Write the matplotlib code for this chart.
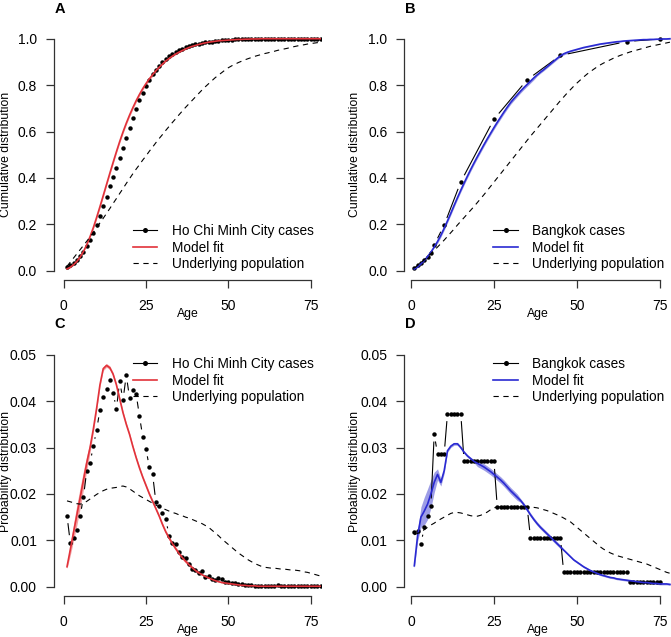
import numpy as np
import matplotlib
matplotlib.use('Agg')
import matplotlib.pyplot as plt
from matplotlib.collections import LineCollection
from matplotlib.lines import Line2D

plt.rcParams['font.family'] = ['Liberation Sans', 'DejaVu Sans']
plt.rcParams['lines.scale_dashes'] = False

# ---------------- data ----------------
ages = list(range(1, 79))

hcmc_cases_prob = [
    0.0153, 0.0095, 0.0104, 0.0122, 0.0152, 0.0194, 0.0250, 0.0267, 0.0303, 0.0338,
    0.0381, 0.0408, 0.0426, 0.0445, 0.0418, 0.0383, 0.0443, 0.0402, 0.0456, 0.0407,
    0.0425, 0.0415, 0.0368, 0.0323, 0.0297, 0.0257, 0.0242, 0.0182, 0.0174, 0.0158,
    0.0146, 0.0110, 0.0094, 0.0093, 0.0075, 0.0063, 0.0061, 0.0050, 0.0039, 0.0037,
    0.0030, 0.0034, 0.0022, 0.0024, 0.0017, 0.0014, 0.0018, 0.0016, 0.0011, 0.0011,
    0.0008, 0.0007, 0.0006, 0.0005, 0.0004, 0.0003, 0.0003, 0.0002, 0.0002, 0.0002,
    0.0002, 0.0002, 0.0002, 0.0002, 0.0004, 0.0002, 0.0002, 0.0002, 0.0002, 0.0002,
    0.0002, 0.0002, 0.0002, 0.0002, 0.0002, 0.0002, 0.0002, 0.0002]

hcmc_cases_cum = [
    0.015, 0.025, 0.035, 0.047, 0.063, 0.082, 0.107, 0.134, 0.164, 0.198,
    0.236, 0.277, 0.319, 0.364, 0.406, 0.444, 0.488, 0.528, 0.574, 0.615,
    0.657, 0.699, 0.736, 0.768, 0.798, 0.823, 0.847, 0.866, 0.883, 0.899,
    0.913, 0.924, 0.934, 0.943, 0.951, 0.957, 0.963, 0.968, 0.972, 0.976,
    0.979, 0.982, 0.984, 0.987, 0.988, 0.990, 0.992, 0.993, 0.994, 0.995,
    0.996, 0.997, 0.997, 0.998, 0.998, 0.999, 0.999, 0.999, 0.999, 1.000,
    1.000, 1.000, 1.000, 1.000, 1.000, 1.000, 1.000, 1.000, 1.000, 1.000,
    1.000, 1.000, 1.000, 1.000, 1.000, 1.000, 1.000, 1.000]

hcmc_model_prob = [
    0.0043, 0.0080, 0.0118, 0.0155, 0.0192, 0.0230, 0.0267, 0.0300, 0.0340, 0.0385,
    0.0435, 0.0470, 0.0477, 0.0472, 0.0458, 0.0435, 0.0405, 0.0375, 0.0350, 0.0328,
    0.0302, 0.0278, 0.0256, 0.0236, 0.0218, 0.0200, 0.0184, 0.0168, 0.0152, 0.0134,
    0.0118, 0.0105, 0.0093, 0.0082, 0.0072, 0.0063, 0.0055, 0.0048, 0.0041, 0.0035,
    0.0030, 0.0026, 0.0022, 0.0019, 0.0016, 0.0013, 0.0011, 0.0009, 0.0008, 0.0007,
    0.0006, 0.0005, 0.0004, 0.0003, 0.0003, 0.0002, 0.0002, 0.0002, 0.0001, 0.0001,
    0.0001, 0.0001, 0.0001, 0.0001, 0.0001, 0.0001, 0.0001, 0.0001, 0.0001, 0.0001,
    0.0001, 0.0001, 0.0001, 0.0001, 0.0001, 0.0001, 0.0001, 0.0001]
hcmc_model_prob_hw = [0.0004, 0.0012, 0.0018, 0.0022, 0.0022, 0.0020, 0.0016, 0.0011,
                      0.0007, 0.0005, 0.0004] + [0.0004] * 30 + [0.0001] * 37

hcmc_model_cum = [
    0.008, 0.015, 0.026, 0.040, 0.059, 0.083, 0.112, 0.147, 0.186, 0.230,
    0.276, 0.324, 0.372, 0.420, 0.467, 0.513, 0.557, 0.598, 0.636, 0.671,
    0.703, 0.733, 0.760, 0.785, 0.807, 0.827, 0.845, 0.862, 0.877, 0.891,
    0.904, 0.915, 0.925, 0.934, 0.942, 0.949, 0.956, 0.962, 0.967, 0.971,
    0.975, 0.979, 0.982, 0.985, 0.987, 0.989, 0.991, 0.992, 0.993, 0.994,
    0.995, 0.996, 0.997, 0.997, 0.998, 0.998, 0.999, 0.999, 0.999, 1.000,
    1.000, 1.000, 1.000, 1.000, 1.000, 1.000, 1.000, 1.000, 1.000, 1.000,
    1.000, 1.000, 1.000, 1.000, 1.000, 1.000, 1.000, 1.000]
hcmc_model_cum_hw = [0.003] * 8 + [0.007] * 20 + [0.003] * 10 + [0.001] * 40

hcmc_pop_prob = [
    0.0185, 0.0183, 0.0181, 0.0179, 0.0178, 0.0180, 0.0184, 0.0189, 0.0194, 0.0199,
    0.0203, 0.0207, 0.0210, 0.0212, 0.0213, 0.0214, 0.0216, 0.0217, 0.0215, 0.0211,
    0.0206, 0.0201, 0.0196, 0.0192, 0.0188, 0.0184, 0.0180, 0.0176, 0.0172, 0.0169,
    0.0166, 0.0163, 0.0160, 0.0158, 0.0155, 0.0153, 0.0150, 0.0148, 0.0145, 0.0142,
    0.0139, 0.0136, 0.0132, 0.0128, 0.0122, 0.0116, 0.0110, 0.0103, 0.0097, 0.0091,
    0.0085, 0.0079, 0.0073, 0.0068, 0.0063, 0.0058, 0.0054, 0.0050, 0.0047, 0.0044,
    0.0042, 0.0041, 0.0040, 0.0040, 0.0039, 0.0038, 0.0038, 0.0037, 0.0036, 0.0036,
    0.0035, 0.0034, 0.0032, 0.0031, 0.0029, 0.0027, 0.0025, 0.0023]

hcmc_pop_cum = [
    0.019, 0.037, 0.055, 0.073, 0.091, 0.109, 0.127, 0.146, 0.165, 0.185,
    0.206, 0.226, 0.247, 0.268, 0.290, 0.311, 0.333, 0.354, 0.376, 0.397,
    0.418, 0.438, 0.457, 0.477, 0.495, 0.515, 0.533, 0.552, 0.570, 0.587,
    0.605, 0.622, 0.639, 0.655, 0.672, 0.688, 0.704, 0.719, 0.734, 0.749,
    0.764, 0.779, 0.793, 0.806, 0.819, 0.832, 0.843, 0.854, 0.865, 0.875,
    0.883, 0.890, 0.897, 0.903, 0.909, 0.914, 0.919, 0.924, 0.928, 0.932,
    0.936, 0.939, 0.943, 0.946, 0.950, 0.953, 0.956, 0.959, 0.963, 0.966,
    0.969, 0.972, 0.974, 0.977, 0.979, 0.981, 0.983, 0.985]

# Bangkok
bkk_cum_ages = [1, 2, 3, 4, 5, 6, 7, 10, 15, 25, 35, 45, 65, 75]
bkk_cases_cum = [0.012, 0.024, 0.033, 0.045, 0.061, 0.078, 0.111, 0.197,
                 0.383, 0.653, 0.823, 0.928, 0.988, 0.999]

bkk_case_ages = list(range(1, 76))
bkk_cases_prob = ([0.0118, 0.0121, 0.0092, 0.0128, 0.0153, 0.0174, 0.0329]
                  + [0.0286] * 3 + [0.0373] * 5 + [0.0270] * 10 + [0.0171] * 10
                  + [0.0106] * 10 + [0.0031] * 20 + [0.0011] * 10)

bkk_model_prob = [
    0.0045, 0.0110, 0.0150, 0.0163, 0.0178, 0.0200, 0.0225, 0.0242, 0.0225, 0.0250,
    0.0293, 0.0303, 0.0308, 0.0308, 0.0300, 0.0290, 0.0282, 0.0276, 0.0270, 0.0266,
    0.0262, 0.0258, 0.0253, 0.0248, 0.0242, 0.0236, 0.0230, 0.0223, 0.0215, 0.0207,
    0.0200, 0.0193, 0.0186, 0.0177, 0.0166, 0.0155, 0.0145, 0.0136, 0.0128, 0.0121,
    0.0114, 0.0107, 0.0100, 0.0093, 0.0086, 0.0079, 0.0072, 0.0065, 0.0058, 0.0053,
    0.0048, 0.0043, 0.0039, 0.0035, 0.0032, 0.0029, 0.0026, 0.0024, 0.0022, 0.0020,
    0.0019, 0.0017, 0.0016, 0.0015, 0.0014, 0.0013, 0.0012, 0.0011, 0.0010, 0.0009,
    0.0009, 0.0008, 0.0007, 0.0007, 0.0006, 0.0006, 0.0006, 0.0005]
bkk_model_prob_hw = ([0.0005, 0.0012, 0.0022, 0.0030, 0.0033, 0.0030, 0.0022, 0.0012,
                      0.0008, 0.0006] + [0.0003] * 9 + [0.0007] * 13 + [0.0004] * 13
                     + [0.0002] * 33)

bkk_model_cum = [
    0.007, 0.016, 0.029, 0.044, 0.061, 0.080, 0.102, 0.126, 0.153, 0.183,
    0.215, 0.248, 0.282, 0.315, 0.347, 0.378, 0.408, 0.437, 0.465, 0.492,
    0.518, 0.544, 0.569, 0.593, 0.617, 0.640, 0.662, 0.684, 0.705, 0.725,
    0.742, 0.758, 0.774, 0.789, 0.803, 0.817, 0.831, 0.844, 0.856, 0.867,
    0.879, 0.891, 0.903, 0.915, 0.926, 0.935, 0.941, 0.946, 0.950, 0.954,
    0.958, 0.962, 0.965, 0.968, 0.971, 0.974, 0.977, 0.979, 0.981, 0.983,
    0.985, 0.987, 0.988, 0.990, 0.991, 0.992, 0.993, 0.994, 0.995, 0.996,
    0.996, 0.997, 0.997, 0.998, 0.998, 0.999, 0.999, 1.000]
bkk_model_cum_hw = [0.002] * 7 + [0.008] * 30 + [0.005] * 10 + [0.002] * 31

bkk_pop_prob = [
    0.0112, 0.0115, 0.0118, 0.0123, 0.0128, 0.0133, 0.0137, 0.0142, 0.0146, 0.0150,
    0.0154, 0.0158, 0.0160, 0.0160, 0.0159, 0.0157, 0.0155, 0.0153, 0.0152, 0.0152,
    0.0154, 0.0157, 0.0161, 0.0166, 0.0170, 0.0172, 0.0173, 0.0173, 0.0173, 0.0173,
    0.0173, 0.0173, 0.0172, 0.0172, 0.0172, 0.0172, 0.0171, 0.0170, 0.0168, 0.0166,
    0.0164, 0.0161, 0.0158, 0.0155, 0.0152, 0.0148, 0.0144, 0.0140, 0.0134, 0.0128,
    0.0122, 0.0116, 0.0110, 0.0104, 0.0098, 0.0092, 0.0086, 0.0081, 0.0077, 0.0073,
    0.0070, 0.0067, 0.0065, 0.0063, 0.0061, 0.0059, 0.0057, 0.0055, 0.0053, 0.0051,
    0.0049, 0.0046, 0.0043, 0.0040, 0.0037, 0.0034, 0.0031, 0.0029]

bkk_pop_cum = [
    0.011, 0.023, 0.035, 0.047, 0.060, 0.074, 0.088, 0.102, 0.117, 0.132,
    0.148, 0.164, 0.180, 0.197, 0.213, 0.229, 0.245, 0.261, 0.277, 0.294,
    0.311, 0.328, 0.346, 0.364, 0.382, 0.400, 0.418, 0.436, 0.454, 0.472,
    0.490, 0.508, 0.526, 0.544, 0.562, 0.580, 0.597, 0.614, 0.631, 0.648,
    0.665, 0.682, 0.699, 0.716, 0.733, 0.749, 0.765, 0.780, 0.795, 0.809,
    0.822, 0.835, 0.847, 0.858, 0.868, 0.878, 0.887, 0.895, 0.902, 0.909,
    0.916, 0.922, 0.928, 0.933, 0.938, 0.943, 0.947, 0.951, 0.955, 0.959,
    0.963, 0.967, 0.970, 0.973, 0.976, 0.979, 0.982, 0.985]

x_ticks = [0, 25, 50, 75]
cum_ticks = [0.0, 0.2, 0.4, 0.6, 0.8, 1.0]
cum_labels = ['0.0', '0.2', '0.4', '0.6', '0.8', '1.0']
prob_ticks = [0.00, 0.01, 0.02, 0.03, 0.04, 0.05]
prob_labels = ['0.00', '0.01', '0.02', '0.03', '0.04', '0.05']

# ---------------- styling ----------------
RED = '#e2323a'
RED_BAND = '#f3a2a4'
BLUE = '#2a2ad2'
BLUE_BAND = '#9d9de6'
AXC = '#333333'
DASH = (0, (3.8, 3.3))

W, H = 671, 637
fig = plt.figure(figsize=(W / 100, H / 100), dpi=100)


def fx(px):
    return px / W


def fy(py):
    return 1 - py / H


def make_ax(left, x0, x1, scale, bottom, ylim, yscale):
    width = (x1 - x0) * scale
    height = (ylim[1] - ylim[0]) * yscale
    ax = fig.add_axes([left / W, 1 - bottom / H, width / W, height / H])
    ax.set_xlim(x0, x1)
    ax.set_ylim(*ylim)
    ax.patch.set_alpha(0)
    for s in ['top', 'right']:
        ax.spines[s].set_visible(False)
    for s in ['left', 'bottom']:
        ax.spines[s].set_color(AXC)
        ax.spines[s].set_linewidth(0.9)
    ax.spines['bottom'].set_bounds(0, 75)
    ax.set_xticks(x_ticks)
    ax.tick_params(axis='both', direction='out', length=5.5, width=0.9,
                   color=AXC, labelsize=10, labelcolor='black')
    ax.tick_params(axis='x', pad=8.4)
    ax.tick_params(axis='y', pad=6.4)
    return ax


def type_b(ax, x, y, gap=7.5):
    # R-style type="b": points joined by lines that stop short of each point
    pts = ax.transData.transform(np.column_stack([x, y]))
    inv = ax.transData.inverted()
    segs = []
    for p, q in zip(pts[:-1], pts[1:]):
        d = np.hypot(*(q - p))
        if d > 2 * gap:
            u = (q - p) / d
            segs.append(inv.transform(np.array([p + u * gap, q - u * gap])))
    ax.add_collection(LineCollection(segs, colors='black', linewidths=0.8))
    ax.plot(x, y, 'o', color='black', ms=3.2, mew=0, ls='none')


def legend(x0, x1, xt, rows, labels, mcol):
    fig.add_artist(Line2D([fx(x0), fx(x1)], [fy(rows[0])] * 2, color='black', lw=0.8))
    fig.add_artist(Line2D([fx((x0 + x1) / 2)], [fy(rows[0])], marker='o', ms=3.6,
                          mew=0, color='black', ls='none'))
    fig.add_artist(Line2D([fx(x0), fx(x1)], [fy(rows[1])] * 2, color=mcol, lw=1.2))
    fig.add_artist(Line2D([fx(x0), fx(x1)], [fy(rows[2])] * 2, color='black', lw=0.8,
                          ls=DASH))
    for r, lab in zip(rows, labels):
        fig.text(fx(xt), fy(r + 4.9), lab, fontsize=9.8, va='baseline', ha='left')


def panel(left, x0, scale, bottom, ylim, yscale, ticks, labels, ybound,
          case_x, case_y, model, hw, pop, col, band):
    ax = make_ax(left, x0, 78.2, scale, bottom, ylim, yscale)
    ax.set_yticks(ticks)
    ax.set_yticklabels(labels)
    ax.spines['left'].set_bounds(0, ybound)
    a = np.array(ages)
    m = np.array(model)
    h = np.array(hw)
    type_b(ax, case_x, case_y)
    ax.fill_between(a, m - h, m + h, color=band, lw=0)
    ax.plot(a, m, color=col, lw=1.2)
    ax.plot(a, pop, color='black', lw=0.8, ls=DASH)
    return ax


panel(53.5, -3.1, 3.293, 280.0, (-0.04, 1.04), 232.0, cum_ticks, cum_labels, 1.0,
      ages, hcmc_cases_cum, hcmc_model_cum, hcmc_model_cum_hw, hcmc_pop_cum, RED, RED_BAND)
panel(404.0, -2.1, 3.32, 280.0, (-0.04, 1.04), 232.0, cum_ticks, cum_labels, 1.0,
      bkk_cum_ages, bkk_cases_cum, bkk_model_cum, bkk_model_cum_hw, bkk_pop_cum, BLUE, BLUE_BAND)
panel(53.5, -3.1, 3.293, 596.0, (-0.002, 0.052), 4640.0, prob_ticks, prob_labels, 0.05,
      ages, hcmc_cases_prob, hcmc_model_prob, hcmc_model_prob_hw, hcmc_pop_prob, RED, RED_BAND)
panel(404.0, -2.1, 3.32, 596.0, (-0.002, 0.052), 4640.0, prob_ticks, prob_labels, 0.05,
      bkk_case_ages, bkk_cases_prob, bkk_model_prob, bkk_model_prob_hw, bkk_pop_prob, BLUE, BLUE_BAND)

# ---- legends ----
legend(133, 157, 172, [230, 247, 263],
       ['Ho Chi Minh City cases', 'Model fit', 'Underlying population'], RED)
legend(493, 518, 532, [230, 247, 263],
       ['Bangkok cases', 'Model fit', 'Underlying population'], BLUE)
legend(133, 157, 172, [363, 380, 396],
       ['Ho Chi Minh City cases', 'Model fit', 'Underlying population'], RED)
legend(493, 518, 532, [363, 380, 396],
       ['Bangkok cases', 'Model fit', 'Underlying population'], BLUE)

# ---- axis labels ----
for xc in (187.5, 537.5):
    fig.text(fx(xc), fy(316.8), 'Age', fontsize=8.8, ha='center', va='baseline')
    fig.text(fx(xc), fy(633.3), 'Age', fontsize=8.8, ha='center', va='baseline')
for xc in (6, 355):
    fig.text(fx(xc), fy(154.5), 'Cumulative distribution', fontsize=8.8, rotation=90,
             ha='center', va='center')
    fig.text(fx(xc), fy(471), 'Probability distribution', fontsize=8.8, rotation=90,
             ha='center', va='center')

# ---- panel letters ----
for lab, xc, yb in (('A', 60, 12.7), ('B', 410.5, 12.7), ('C', 60, 328.2), ('D', 410.5, 328.2)):
    fig.text(fx(xc), fy(yb), lab, fontsize=10.5, fontweight='bold', ha='center',
             va='baseline')

fig.savefig('out.png', dpi=100)
